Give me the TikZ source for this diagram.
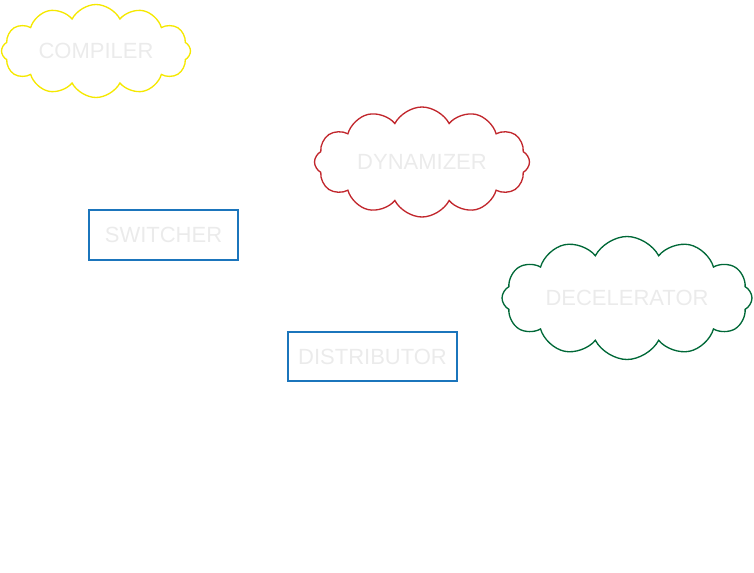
\documentclass[tikz,border=0pt]{standalone}
\usepackage{fontspec}
\setmainfont{Liberation Sans}
\usetikzlibrary{shapes.symbols}
\definecolor{cloudyellow}{HTML}{F5E800}
\definecolor{cloudred}{HTML}{C1272D}
\definecolor{cloudgreen}{HTML}{006837}
\definecolor{boxblue}{HTML}{1B75BC}
\definecolor{labelgray}{HTML}{EBEBEB}
\begin{document}
\begin{tikzpicture}
[x=0.75pt,y=-0.75pt,thick,%
  every node/.style={text=labelgray,inner sep=0pt,font=\fontsize{16.5}{19}\selectfont},
  puff/.style={cloud,cloud puffs=12,cloud puff arc=125,cloud ignores aspect,draw,line width=1pt},
  unit/.style={rectangle,draw=boxblue}]
\useasboundingbox (0,0) rectangle (754,572);
\node[puff,draw=cloudyellow,minimum width=189*0.75pt,minimum height=93*0.75pt] (compiler) at (96,51) {COMPILER};
\node[puff,draw=cloudred,minimum width=215*0.75pt,minimum height=110*0.75pt] (dynamizer) at (422,162) {DYNAMIZER};
\node[puff,draw=cloudgreen,minimum width=250*0.75pt,minimum height=123*0.75pt] (decelerator) at (627,298) {DECELERATOR};
\node[unit,minimum width=149*0.75pt,minimum height=50*0.75pt] (switcher) at (163.5,235) {SWITCHER};
\node[unit,minimum width=169*0.75pt,minimum height=49*0.75pt] (distributor) at (372.5,356.5) {DISTRIBUTOR};
\end{tikzpicture}
\end{document}
